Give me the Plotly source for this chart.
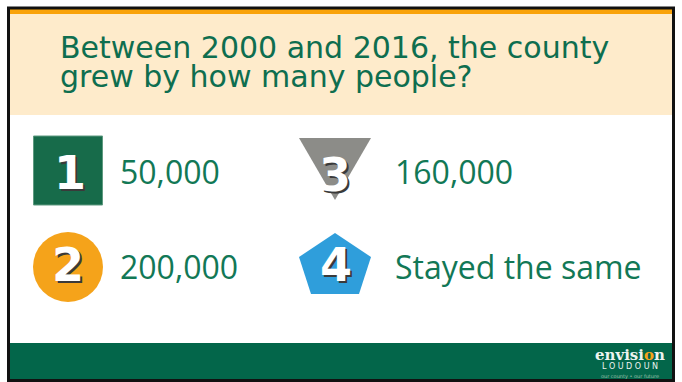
import plotly.graph_objects as go

# ---------------- content ----------------
question_lines = ["Between 2000 and 2016, the county", "grew by how many people?"]
option_numbers = ["1", "2", "3", "4"]
option_labels = ["50,000", "200,000", "160,000", "Stayed the same"]
option_badges = ["square", "circle", "triangle", "pentagon"]
badge_colors = ["#176B4A", "#F5A31A", "#8C8C88", "#2F9EDB"]
logo_word_parts = ["envisi", "o", "n"]
logo_place = "L O U D O U N"
logo_tagline = "our county • our future"

# ---------------- styling / layout ----------------
W, H = 682, 382
GREEN_TEXT = "#0E6E4F"
ANSWER_TEXT = "#127856"
BEIGE = "#FEEBCB"
ORANGE_BAR = "#F9A20A"
FOOTER = "#03664A"

col_badge_x = [68, 335]
col_text_x = [118, 393]
row_y = [171, 266]
# option i -> (column, row)
option_cells = [(0, 0), (0, 1), (1, 0), (1, 1)]

fig = go.Figure()
shapes = []
annotations = []

# background bands
shapes.append(dict(type="rect", x0=8, x1=674, y0=14, y1=115,
                   fillcolor=BEIGE, line=dict(width=0), layer="below"))
shapes.append(dict(type="rect", x0=8, x1=674, y0=9, y1=14,
                   fillcolor=ORANGE_BAR, line=dict(width=0), layer="below"))
shapes.append(dict(type="rect", x0=8, x1=674, y0=343, y1=380,
                   fillcolor=FOOTER, line=dict(width=0), layer="below"))
# frame
shapes.append(dict(type="rect", x0=8.5, x1=673.5, y0=8, y1=380.5,
                   fillcolor="rgba(0,0,0,0)", line=dict(color="#111", width=3)))

# question (one block; line pitch set by the small base size)
title_html = "<br>".join(f"<span style='font-size:30px'>{ln}</span>" for ln in question_lines)
annotations.append(dict(x=58, y=62, text=title_html, showarrow=False,
                        xanchor="left", yanchor="middle", align="left",
                        font=dict(family="DejaVu Sans", size=22.5, color=GREEN_TEXT)))


def badge_shape(kind, cx, cy, color):
    if kind == "square":
        return dict(type="rect", x0=cx - 34.5, x1=cx + 34.5, y0=cy - 35, y1=cy + 34,
                    fillcolor=color, line=dict(color="#5E9A80", width=1))
    if kind == "circle":
        return dict(type="circle", x0=cx - 35, x1=cx + 35, y0=cy - 34, y1=cy + 36,
                    fillcolor=color, line=dict(width=0))
    if kind == "triangle":
        p = f"M {cx-36},{cy-33} L {cx+36},{cy-33} L {cx},{cy+29} Z"
        return dict(type="path", path=p, fillcolor=color, line=dict(width=0))
    if kind == "pentagon":
        p = (f"M {cx},{cy-33} L {cx+36},{cy-9} L {cx+24},{cy+28} "
             f"L {cx-24},{cy+28} L {cx-36},{cy-9} Z")
        return dict(type="path", path=p, fillcolor=color, line=dict(width=0))


digit_offsets = {"square": (2, 2), "circle": (0, -1), "triangle": (0, 4), "pentagon": (1, -1)}

for num, label, kind, color, (c, r) in zip(option_numbers, option_labels,
                                           option_badges, badge_colors, option_cells):
    cx, cy = col_badge_x[c], row_y[r]
    shapes.append(badge_shape(kind, cx, cy, color))
    dx, dy = digit_offsets[kind]
    annotations.append(dict(x=cx + dx, y=cy + dy, text=f"<b>{num}</b>", showarrow=False,
                            xanchor="center", yanchor="middle",
                            font=dict(family="DejaVu Sans", size=46, color="white",
                                      shadow="2px 2px 0px #3a3a3a")))
    annotations.append(dict(x=col_text_x[c], y=cy, text=label, showarrow=False,
                            xanchor="left", yanchor="middle",
                            font=dict(family="Open Sans", size=32, color=ANSWER_TEXT)))

# logo (one block, three lines)
logo_html = (
    "<span style='font-size:15px;font-family:DejaVu Serif;font-weight:bold'>"
    f"{logo_word_parts[0]}<span style='color:#F5A31A'>{logo_word_parts[1]}</span>"
    f"{logo_word_parts[2]}</span><br>"
    f"<span style='font-size:8px'>{logo_place}</span><br>"
    f"<span style='font-size:5px;fill:#9DC0AE'>{logo_tagline}</span>"
)
annotations.append(dict(x=630, y=363, text=logo_html, showarrow=False,
                        xanchor="center", yanchor="middle", align="center",
                        font=dict(family="DejaVu Sans", size=7, color="#EEF4F0")))

fig.update_layout(
    width=W, height=H, autosize=False,
    margin=dict(l=0, r=0, t=0, b=0),
    paper_bgcolor="white", plot_bgcolor="white",
    xaxis=dict(range=[0, W], visible=False, fixedrange=True),
    yaxis=dict(range=[H, 0], visible=False, fixedrange=True),
    shapes=shapes, annotations=annotations, showlegend=False,
)

fig.write_html("out.html", config={"displayModeBar": False, "staticPlot": True},
               post_script="document.body.style.margin='0px';document.body.style.overflow='hidden';")
